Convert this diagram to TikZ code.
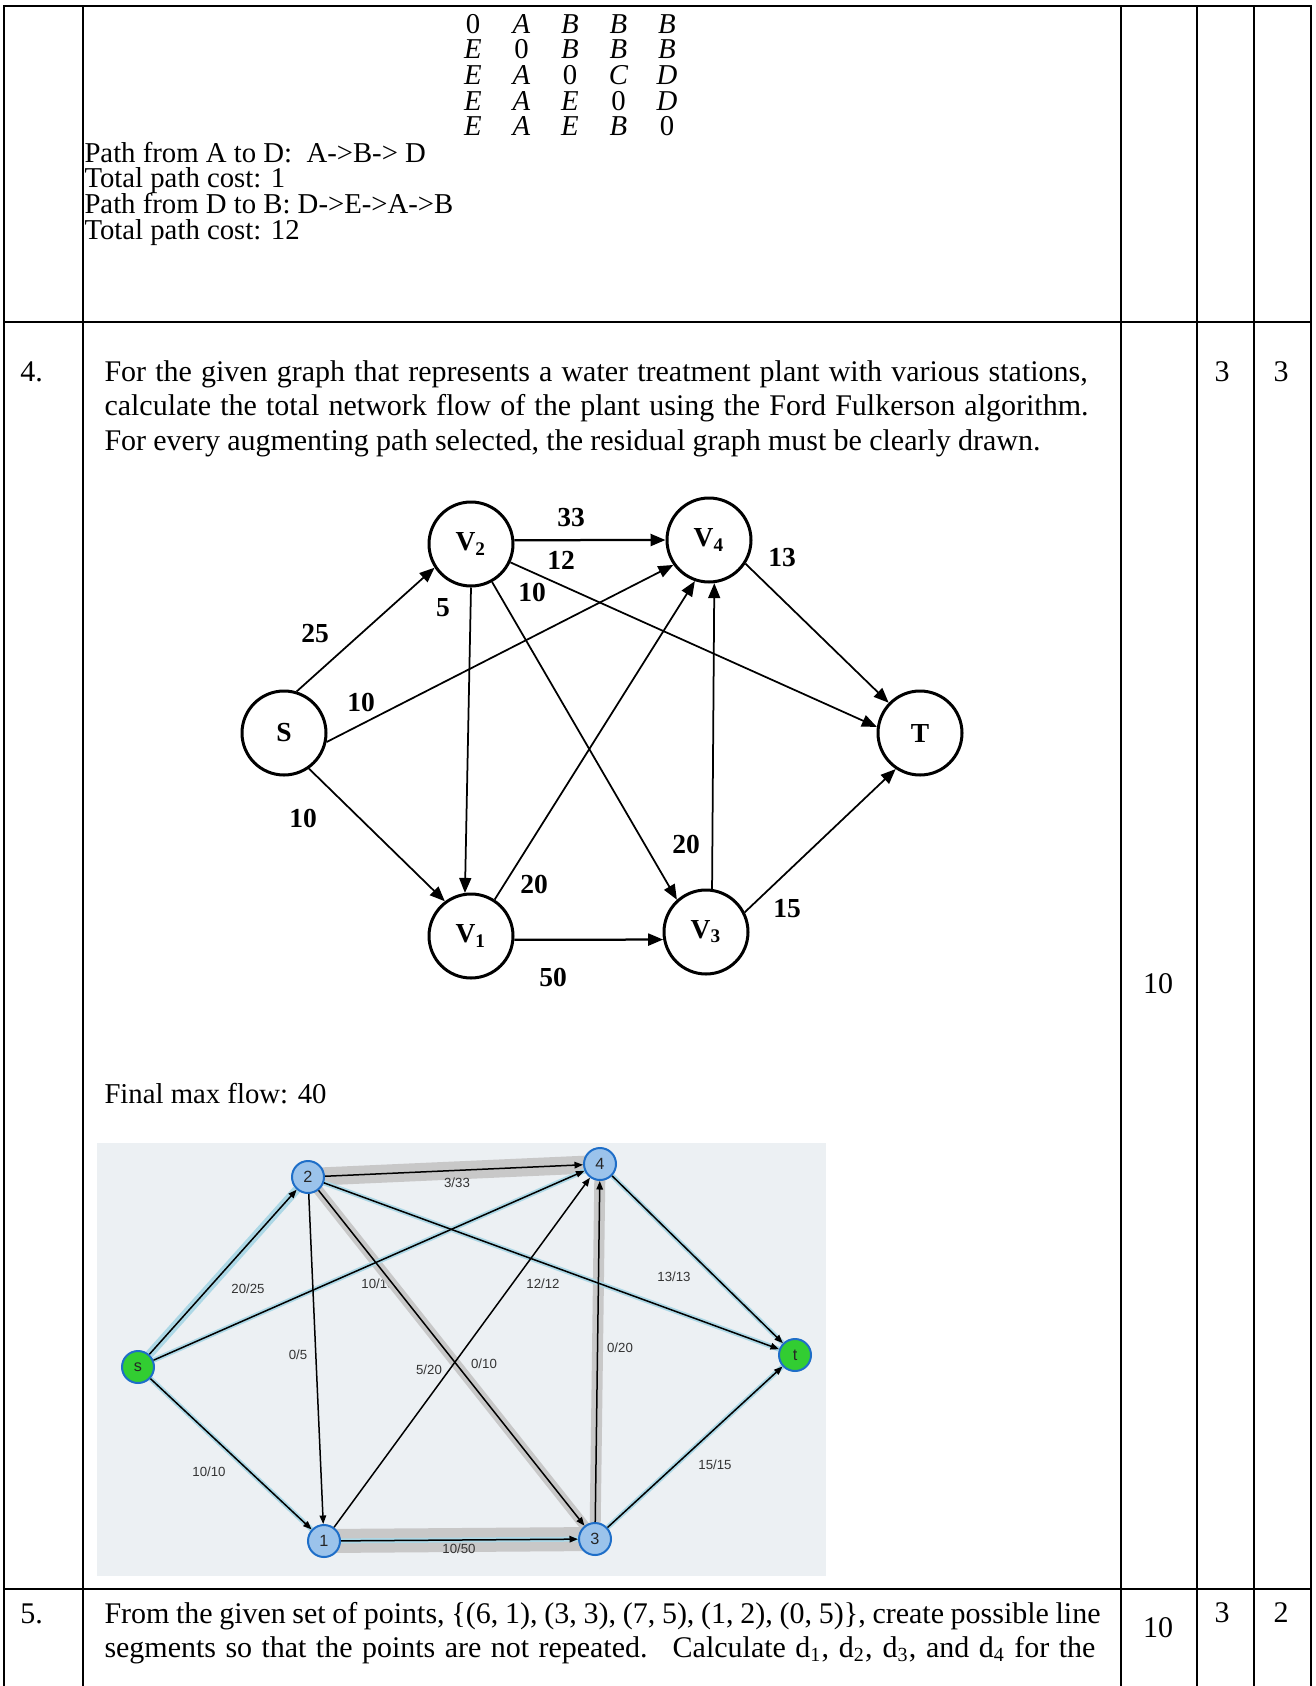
\documentclass[tikz,border=0pt]{standalone}
\usepackage{fontspec}
\setmainfont{Liberation Serif}
\setsansfont{Liberation Sans}
\usetikzlibrary{arrows.meta}

\definecolor{vtxblue}{RGB}{155,195,235}
\definecolor{vtxline}{RGB}{30,110,200}
\definecolor{vtxgreen}{RGB}{50,205,50}
\definecolor{glowblue}{RGB}{173,216,230}
\definecolor{bandgray}{RGB}{200,200,200}
\definecolor{panelbg}{RGB}{236,240,243}

\pgfdeclarelayer{panel}
\pgfdeclarelayer{bg}
\pgfsetlayers{panel,bg,main}

\begin{document}
\begin{tikzpicture}[
  x=0.4pt, y=-0.4pt,
  txtline/.style={anchor=base west, inner sep=0pt, font=\fontsize{12}{14}\selectfont},
  smline/.style={txtline, font=\fontsize{11.5}{13}\selectfont},
  cell/.style={anchor=base, inner sep=0pt, font=\fontsize{12}{14}\selectfont},
  mcell/.style={cell, font=\fontsize{11.5}{13}\selectfont},
  stn/.style={circle, draw, line width=1.2pt, minimum size=33.6pt, inner sep=0pt,
    font=\fontsize{11}{12}\selectfont\bfseries},
  wlbl/.style={inner sep=0pt, font=\fontsize{11}{12}\selectfont\bfseries},
  pipe/.style={-{Triangle[length=6pt,width=4.8pt]}, line width=0.7pt},
  vtx/.style={circle, draw=vtxline, line width=0.8pt, fill=vtxblue, minimum size=12.8pt,
    inner sep=0pt, font=\fontsize{6.5}{7}\sffamily, text=black!85},
  src/.style={vtx, fill=vtxgreen},
  flw/.style={-{Triangle[length=3.4pt,width=2.6pt]}, line width=0.6pt},
  flbl/.style={inner sep=0pt, font=\fontsize{5.3}{6}\sffamily, text=black!80},
  glow/.style={draw=glowblue, line width=2pt},
  bigglow/.style={draw=glowblue, line width=3.4pt},
  band/.style={draw=bandgray}
]
\useasboundingbox (0,0) rectangle (1315,1686);

% table rules
\draw [line width=1.1pt] (4,1686) -- (4,6) -- (1311,6) -- (1311,1686);
\foreach \x in {83,1121,1197,1254}
  \draw [line width=1.1pt] (\x,6) -- (\x,1686);
\draw [line width=1.1pt] (4,322) -- (1311,322);
\draw [line width=1.1pt] (4,1589) -- (1311,1589);

% previous answer
\foreach \row [count=\r] in {{0,A,B,B,B},{E,0,B,B,B},{E,A,0,C,D},{E,A,E,0,D},{E,A,E,B,0}}
  \foreach \e [count=\c] in \row
    \node [mcell] (m\r\c) at ({424.5+48.5*\c},{7.3+25.7*\r}) {\if\e0 0\else\textit{\e}\fi};

\node [smline] (pad) at (84,162) {Path from A to D: \ A->B-> D};
\node [smline] (cad) at (84,187) {Total path cost: 1};
\node [smline] (pdb) at (84,213) {Path from D to B: D->E->A->B};
\node [smline] (cdb) at (84,239) {Total path cost: 12};

% question 4
\node [txtline] (q4) at (20,381) {4.};
\node [txtline] (q4a) at (104,381) {\makebox[393.3pt][s]{For the given graph that represents a water treatment plant with various stations,}};
\node [txtline] (q4b) at (104,415) {\makebox[393.6pt][s]{calculate the total network flow of the plant using the Ford Fulkerson algorithm.}};
\node [txtline] (q4c) at (104,450) {\makebox[374.4pt][s]{For every augmenting path selected, the residual graph must be clearly drawn.}};
\node [cell] (k4) at (1222,381) {3};
\node [cell] (l4) at (1281,381) {3};
\node [cell] (w4) at (1158,993) {10};

% given network
\node [stn] (S) at (284,733) {S};
\node [stn] (V2) at (471,544) {V\textsubscript{2}};
\node [stn] (V4) at (709,540) {V\textsubscript{4}};
\node [stn] (T) at (920,733) {T};
\node [stn] (V1) at (471,936) {V\textsubscript{1}};
\node [stn] (V3) at (706,932) {V\textsubscript{3}};

\draw [pipe] (S.73) -- (V2.213);
\draw [pipe] (S.-12) -- (V4.215);
\draw [pipe] (S.-55) -- (V1.127);
\draw [pipe, line width=0.9pt] (V2.5) -- (V4.180);
\draw [pipe] (V2.-25) -- (T.172);
\draw [pipe] (V2.-90) -- (V1.98);
\draw [pipe] (V2.-61) -- (V3.132);
\draw [pipe] (V1.57) -- (V4.251);
\draw [pipe] (V3.82) -- (V4.-83);
\draw [pipe] (V4.-33) -- (T.136);
\draw [pipe, line width=0.9pt] (V1.-5) -- (V3.190);
\draw [pipe] (V3.27) -- (T.236);

\node [wlbl] (c24) at (571,518) {33};
\node [wlbl] (c2t) at (561,560) {12};
\node [wlbl] (c4t) at (782,558) {13};
\node [wlbl] (c23) at (532,592) {10};
\node [wlbl] (c21) at (443,608) {5};
\node [wlbl] (cs2) at (315,634) {25};
\node [wlbl] (cs4) at (361,702) {10};
\node [wlbl] (cs1) at (303,818) {10};
\node [wlbl] (c34) at (686,844) {20};
\node [wlbl] (c14) at (534,884) {20};
\node [wlbl] (c3t) at (787,909) {15};
\node [wlbl] (c13) at (553,977) {50};

\node [smline] (mf) at (104,1103) {Final max flow: 40};

% final flow
\begin{pgfonlayer}{panel}
\fill [panelbg] (97,1143) rectangle (826,1576);
\node [flbl] (f23) at (378,1284) {10/10};
\end{pgfonlayer}
\node [flbl] (f24) at (457,1183) {3/33};
\node [flbl] (fs2) at (248,1289) {20/25};
\node [flbl] (f2t) at (543,1284) {12/12};
\node [flbl] (f4t) at (674,1277) {13/13};
\node [flbl] (f21) at (298,1355) {0/5};
\node [flbl] (f14) at (429,1370) {5/20};
\node [flbl] (f32) at (484,1364) {0/10};
\node [flbl] (f34) at (620,1348) {0/20};
\node [flbl] (fs1) at (209,1472) {10/10};
\node [flbl] (f3t) at (715,1465) {15/15};
\node [flbl] (f13) at (459,1549) {10/50};

\node [src] (s) at (138,1367) {s};
\node [vtx] (n2) at (308,1177) {2};
\node [vtx] (n4) at (600,1164) {4};
\node [src] (t) at (795,1355) {t};
\node [vtx] (n1) at (324,1541) {1};
\node [vtx] (n3) at (595,1539) {3};

\begin{pgfonlayer}{bg}
\draw [band, line width=7.2pt] (n2.center) -- (n4.center);
\draw [band, line width=4pt] (n2.center) -- (n3.center);
\draw [band, line width=4.4pt] (n3.center) -- (n4.center);
\draw [band, line width=9.6pt] (n1.center) -- (n3.center);
\draw [bigglow] (s) -- (n2);
\draw [glow] (s) -- (n4);
\draw [glow] (s) -- (n1);
\draw [glow] (n2) -- (t);
\draw [glow] (n4) -- (t);
\draw [glow] (n3) -- (t);
\draw [glow] (n1) -- (n3);
\end{pgfonlayer}

\draw [flw] (s) -- (n2);
\draw [flw] (s) -- (n4);
\draw [flw] (s) -- (n1);
\draw [flw] (n2) -- (n4);
\draw [flw] (n2) -- (n1);
\draw [flw] (n2) -- (n3);
\draw [flw] (n2) -- (t);
\draw [flw] (n1) -- (n4);
\draw [flw] (n1) -- (n3);
\draw [flw] (n3) -- (n4);
\draw [flw] (n4) -- (t);
\draw [flw] (n3) -- (t);

% question 5
\node [txtline] (q5) at (20,1623) {5.};
\node [txtline] (q5a) at (104,1623) {\makebox[398.4pt][s]{From the given set of points, \{(6, 1), (3, 3), (7, 5), (1, 2), (0, 5)\}, create possible line}};
\node [txtline] (q5b) at (104,1657) {\makebox[396.4pt][s]{segments so that the points are not repeated. \ Calculate d\textsubscript{1}, d\textsubscript{2}, d\textsubscript{3}, and d\textsubscript{4} for the}};
\node [cell] (w5) at (1158,1637) {10};
\node [cell] (k5) at (1222,1622) {3};
\node [cell] (l5) at (1281,1622) {2};

\end{tikzpicture}
\end{document}
